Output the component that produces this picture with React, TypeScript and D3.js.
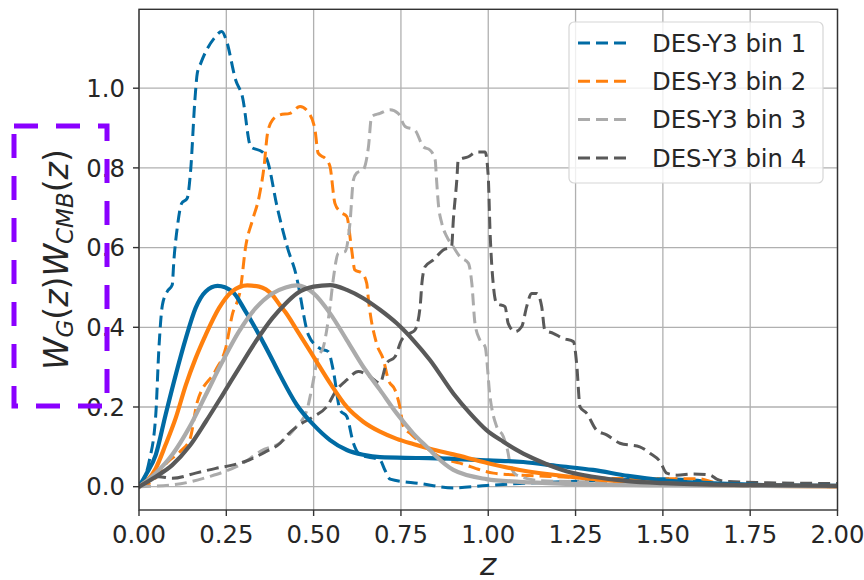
import React from "react";
import * as d3 from "d3";

// ---------- data ----------
const X_TICKS = [0, 0.25, 0.5, 0.75, 1.0, 1.25, 1.5, 1.75, 2.0];
const Y_TICKS = [0, 0.2, 0.4, 0.6, 0.8, 1.0];
const LEGEND_LABELS = ["DES-Y3 bin 1", "DES-Y3 bin 2", "DES-Y3 bin 3", "DES-Y3 bin 4"];
const COLORS = ["#006BA4", "#FF800E", "#ABABAB", "#595959"];

// dashed: DES-Y3 n(z)
const bin1Dashed: [number, number][] = [
  [0, 0], [0.01, 0.013], [0.029, 0.063], [0.048, 0.18], [0.057, 0.347], [0.067, 0.456], [0.081, 0.49],
  [0.095, 0.506], [0.1, 0.569], [0.11, 0.653], [0.122, 0.711], [0.138, 0.724], [0.148, 0.795],
  [0.16, 0.97], [0.167, 1.038], [0.177, 1.063], [0.215, 1.125], [0.237, 1.142], [0.25, 1.12],
  [0.277, 1.02], [0.296, 0.979], [0.32, 0.853], [0.353, 0.84], [0.367, 0.82], [0.396, 0.7],
  [0.425, 0.6], [0.451, 0.527], [0.456, 0.506], [0.485, 0.381], [0.518, 0.347], [0.542, 0.339],
  [0.556, 0.293], [0.576, 0.192], [0.595, 0.176], [0.614, 0.109], [0.633, 0.08], [0.69, 0.067],
  [0.704, 0.042], [0.719, 0.019], [0.805, 0.008], [0.9, -0.003], [0.995, 0.003], [1.09, 0.008],
  [1.3, 0.015], [1.5, 0.02], [1.6, 0.016], [1.66, 0.005], [1.8, 0.002], [2.0, 0.001],
];
const bin2Dashed: [number, number][] = [
  [0, 0], [0.04, 0.015], [0.08, 0.06], [0.12, 0.09], [0.146, 0.12], [0.167, 0.213], [0.22, 0.293],
  [0.248, 0.347], [0.267, 0.431], [0.291, 0.498], [0.305, 0.6], [0.325, 0.669], [0.344, 0.728],
  [0.358, 0.803], [0.368, 0.887], [0.382, 0.92], [0.404, 0.933], [0.432, 0.937], [0.461, 0.954],
  [0.49, 0.933], [0.504, 0.895], [0.513, 0.837], [0.537, 0.82], [0.547, 0.803], [0.561, 0.711],
  [0.576, 0.69], [0.595, 0.678], [0.609, 0.594], [0.618, 0.544], [0.638, 0.536], [0.652, 0.511],
  [0.657, 0.469], [0.68, 0.36], [0.7, 0.318], [0.714, 0.268], [0.733, 0.243], [0.747, 0.2],
  [0.757, 0.151], [0.776, 0.134], [0.82, 0.1], [0.86, 0.075], [0.919, 0.059], [1.015, 0.034],
  [1.09, 0.029], [1.2, 0.025], [1.43, 0.02], [1.6, 0.02], [1.65, 0.01], [1.7, 0.003], [2.0, 0.0],
];
const bin3Dashed: [number, number][] = [
  [0, 0], [0.1, 0.005], [0.2, 0.025], [0.3, 0.06], [0.35, 0.09], [0.404, 0.11], [0.45, 0.15],
  [0.48, 0.19], [0.494, 0.243], [0.513, 0.326], [0.528, 0.351], [0.547, 0.452], [0.556, 0.519],
  [0.571, 0.586], [0.59, 0.59], [0.604, 0.661], [0.614, 0.77], [0.623, 0.787], [0.642, 0.795],
  [0.657, 0.853], [0.666, 0.929], [0.69, 0.937], [0.719, 0.946], [0.742, 0.937], [0.762, 0.904],
  [0.79, 0.895], [0.814, 0.853], [0.833, 0.845], [0.848, 0.82], [0.852, 0.77], [0.857, 0.711],
  [0.867, 0.661], [0.881, 0.628], [0.9, 0.602], [0.919, 0.577], [0.943, 0.561], [0.953, 0.51],
  [0.962, 0.41], [0.976, 0.368], [0.991, 0.351], [1.005, 0.226], [1.024, 0.151], [1.043, 0.126],
  [1.057, 0.084], [1.062, 0.059], [1.08, 0.03], [1.15, 0.015], [1.3, 0.012], [1.5, 0.01],
  [1.6, 0.005], [2.0, 0.0],
];
const bin4Dashed: [number, number][] = [
  [0, 0], [0.03, 0.02], [0.057, 0.025], [0.095, 0.021], [0.162, 0.034], [0.22, 0.046], [0.267, 0.054],
  [0.315, 0.067], [0.363, 0.088], [0.404, 0.109], [0.425, 0.13], [0.452, 0.151], [0.5, 0.176],
  [0.537, 0.2], [0.566, 0.243], [0.595, 0.268], [0.628, 0.289], [0.662, 0.276], [0.69, 0.26],
  [0.709, 0.31], [0.733, 0.326], [0.752, 0.368], [0.776, 0.385], [0.79, 0.393], [0.805, 0.452],
  [0.81, 0.51], [0.819, 0.552], [0.843, 0.569], [0.871, 0.594], [0.895, 0.602], [0.9, 0.669],
  [0.91, 0.77], [0.914, 0.82], [0.943, 0.828], [0.967, 0.84], [0.991, 0.84], [1.0, 0.778],
  [1.005, 0.644], [1.015, 0.502], [1.024, 0.46], [1.048, 0.452], [1.057, 0.41], [1.077, 0.389],
  [1.096, 0.402], [1.11, 0.452], [1.124, 0.485], [1.139, 0.485], [1.153, 0.452], [1.162, 0.393],
  [1.186, 0.385], [1.215, 0.372], [1.244, 0.364], [1.253, 0.31], [1.263, 0.2], [1.282, 0.184],
  [1.31, 0.142], [1.339, 0.13], [1.377, 0.109], [1.434, 0.1], [1.463, 0.084], [1.492, 0.063],
  [1.511, 0.034], [1.54, 0.029], [1.587, 0.032], [1.635, 0.029], [1.654, 0.019], [1.683, 0.013],
  [1.8, 0.01], [2.0, 0.008],
];

// solid: W_G(z) W_CMB(z)
const bin1Solid: [number, number][] = [
  [0, 0], [0.019, 0.029], [0.048, 0.08], [0.076, 0.18], [0.105, 0.28], [0.134, 0.372], [0.162, 0.448],
  [0.191, 0.49], [0.225, 0.504], [0.267, 0.49], [0.305, 0.44], [0.344, 0.381], [0.382, 0.318],
  [0.404, 0.28], [0.452, 0.205], [0.5, 0.155], [0.547, 0.117], [0.595, 0.092], [0.642, 0.08],
  [0.69, 0.074], [0.8, 0.072], [0.9, 0.07], [1.0, 0.066], [1.1, 0.062], [1.2, 0.052], [1.3, 0.042],
  [1.4, 0.027], [1.5, 0.016], [1.6, 0.01], [1.75, 0.005], [2.0, 0.002],
];
const bin2Solid: [number, number][] = [
  [0, 0], [0.048, 0.046], [0.076, 0.105], [0.105, 0.172], [0.134, 0.255], [0.162, 0.322], [0.191, 0.381],
  [0.229, 0.448], [0.267, 0.49], [0.31, 0.505], [0.344, 0.502], [0.382, 0.481], [0.404, 0.455],
  [0.42, 0.437], [0.452, 0.393], [0.5, 0.326], [0.547, 0.26], [0.595, 0.2], [0.642, 0.163],
  [0.69, 0.138], [0.738, 0.12], [0.785, 0.107], [0.833, 0.095], [0.9, 0.081], [1.0, 0.059],
  [1.09, 0.042], [1.234, 0.025], [1.4, 0.012], [1.6, 0.005], [1.8, 0.002], [2.0, 0.001],
];
const bin3Solid: [number, number][] = [
  [0, 0], [0.048, 0.034], [0.095, 0.08], [0.143, 0.147], [0.191, 0.23], [0.239, 0.314], [0.286, 0.389],
  [0.334, 0.448], [0.382, 0.485], [0.42, 0.5], [0.452, 0.505], [0.5, 0.485], [0.547, 0.435],
  [0.595, 0.368], [0.642, 0.301], [0.69, 0.243], [0.738, 0.184], [0.785, 0.134], [0.833, 0.092],
  [0.852, 0.075], [0.9, 0.042], [0.995, 0.019], [1.09, 0.012], [1.234, 0.007], [1.5, 0.003], [2.0, 0.001],
];
const bin4Solid: [number, number][] = [
  [0, 0], [0.048, 0.025], [0.095, 0.054], [0.143, 0.1], [0.191, 0.163], [0.239, 0.23], [0.286, 0.297],
  [0.334, 0.364], [0.382, 0.423], [0.42, 0.46], [0.452, 0.485], [0.5, 0.502], [0.547, 0.506],
  [0.595, 0.494], [0.642, 0.473], [0.69, 0.444], [0.738, 0.41], [0.785, 0.368], [0.833, 0.318],
  [0.9, 0.234], [0.948, 0.184], [0.995, 0.142], [1.043, 0.113], [1.09, 0.088], [1.139, 0.067],
  [1.186, 0.05], [1.234, 0.036], [1.3, 0.025], [1.4, 0.014], [1.5, 0.009], [1.75, 0.004], [2.0, 0.002],
];

const DASHED = [bin1Dashed, bin2Dashed, bin3Dashed, bin4Dashed];
const SOLID = [bin1Solid, bin2Solid, bin3Solid, bin4Solid];

// ---------- layout ----------
const W = 864;
const H = 580;
const PL = 139;
const PR = 837.5;
const PT = 9.3;
const PB = 510;
const FONT = "DejaVu Sans, sans-serif";

export default function App() {
  const x = d3.scaleLinear().domain([0, 2]).range([PL, PR]);
  const y = d3.scaleLinear().domain([-0.0585, 1.198]).range([PB, PT]);
  const line = d3
    .line<[number, number]>()
    .x((d) => x(d[0]))
    .y((d) => y(d[1]))
    .curve(d3.curveMonotoneX);

  const legendX = 569;
  const legendY = 22;
  const rowH = 38.3;

  return (
    <svg
      width={W}
      height={H}
      viewBox={`0 0 ${W} ${H}`}
      style={{ position: "absolute", left: 0, top: 0, background: "#fff" }}
      fontFamily={FONT}
    >
      <defs>
        <clipPath id="plotclip">
          <rect x={PL} y={PT} width={PR - PL} height={PB - PT} />
        </clipPath>
      </defs>
      <rect x={0} y={0} width={W} height={H} fill="#fff" />

      {/* grid */}
      <g stroke="#b0b0b0" strokeWidth={1.3}>
        {X_TICKS.map((t) => (
          <line key={"gx" + t} x1={x(t)} x2={x(t)} y1={PT} y2={PB} />
        ))}
        {Y_TICKS.map((t) => (
          <line key={"gy" + t} x1={PL} x2={PR} y1={y(t)} y2={y(t)} />
        ))}
      </g>

      {/* curves */}
      <g clipPath="url(#plotclip)" fill="none">
        {DASHED.map((s, i) => (
          <path
            key={"d" + i}
            d={line(s) || ""}
            stroke={COLORS[i]}
            strokeWidth={3}
            strokeDasharray="12,6"
          />
        ))}
        {SOLID.map((s, i) => (
          <path key={"s" + i} d={line(s) || ""} stroke={COLORS[i]} strokeWidth={4.2} strokeLinecap="round" />
        ))}
      </g>

      {/* spines */}
      <rect x={PL} y={PT} width={PR - PL} height={PB - PT} fill="none" stroke="#333" strokeWidth={1.4} />

      {/* x ticks */}
      {X_TICKS.map((t) => (
        <g key={"xt" + t}>
          <line x1={x(t)} x2={x(t)} y1={PB} y2={PB + 6} stroke="#333" strokeWidth={1.4} />
          <text x={x(t)} y={543} fontSize={24.3} textAnchor="middle" fill="#262626">
            {t.toFixed(2)}
          </text>
        </g>
      ))}
      {/* y ticks */}
      {Y_TICKS.map((t) => (
        <g key={"yt" + t}>
          <line x1={PL - 6} x2={PL} y1={y(t)} y2={y(t)} stroke="#333" strokeWidth={1.4} />
          <text x={125} y={y(t) + 8.8} fontSize={24.3} textAnchor="end" fill="#262626">
            {t.toFixed(1)}
          </text>
        </g>
      ))}

      {/* x label */}
      <text x={(PL + PR) / 2} y={575} fontSize={31} fontStyle="italic" textAnchor="middle" fill="#262626">
        z
      </text>

      {/* y label */}
      <g transform={`translate(68, ${(PT + PB) / 2}) rotate(-90)`}>
        <text x={0} y={0} fontSize={33} textAnchor="middle" fill="#262626">
          <tspan fontStyle="italic">W</tspan>
          <tspan fontStyle="italic" fontSize={23} dy={5}>G</tspan>
          <tspan dy={-5}>(</tspan>
          <tspan fontStyle="italic">z</tspan>
          <tspan>)</tspan>
          <tspan fontStyle="italic">W</tspan>
          <tspan fontStyle="italic" fontSize={23} dy={5}>CMB</tspan>
          <tspan dy={-5}>(</tspan>
          <tspan fontStyle="italic">z</tspan>
          <tspan>)</tspan>
        </text>
      </g>

      {/* legend */}
      <g>
        <rect
          x={legendX}
          y={legendY}
          width={254}
          height={161}
          rx={5}
          fill="#fff"
          fillOpacity={0.8}
          stroke="#d6d6d6"
          strokeWidth={1.2}
        />
        {LEGEND_LABELS.map((lab, i) => {
          const cy = 43 + i * rowH;
          return (
            <g key={lab}>
              <line
                x1={578}
                x2={628}
                y1={cy}
                y2={cy}
                stroke={COLORS[i]}
                strokeWidth={3}
                strokeDasharray="12,6"
              />
              <text x={652} y={cy + 8.8} fontSize={24.3} fill="#262626">
                {lab}
              </text>
            </g>
          );
        })}
      </g>

      {/* highlight box */}
      <rect
        x={14}
        y={126}
        width={93}
        height={280}
        fill="none"
        stroke="#8a00ff"
        strokeWidth={5}
        strokeDasharray="24,18"
      />
    </svg>
  );
}
